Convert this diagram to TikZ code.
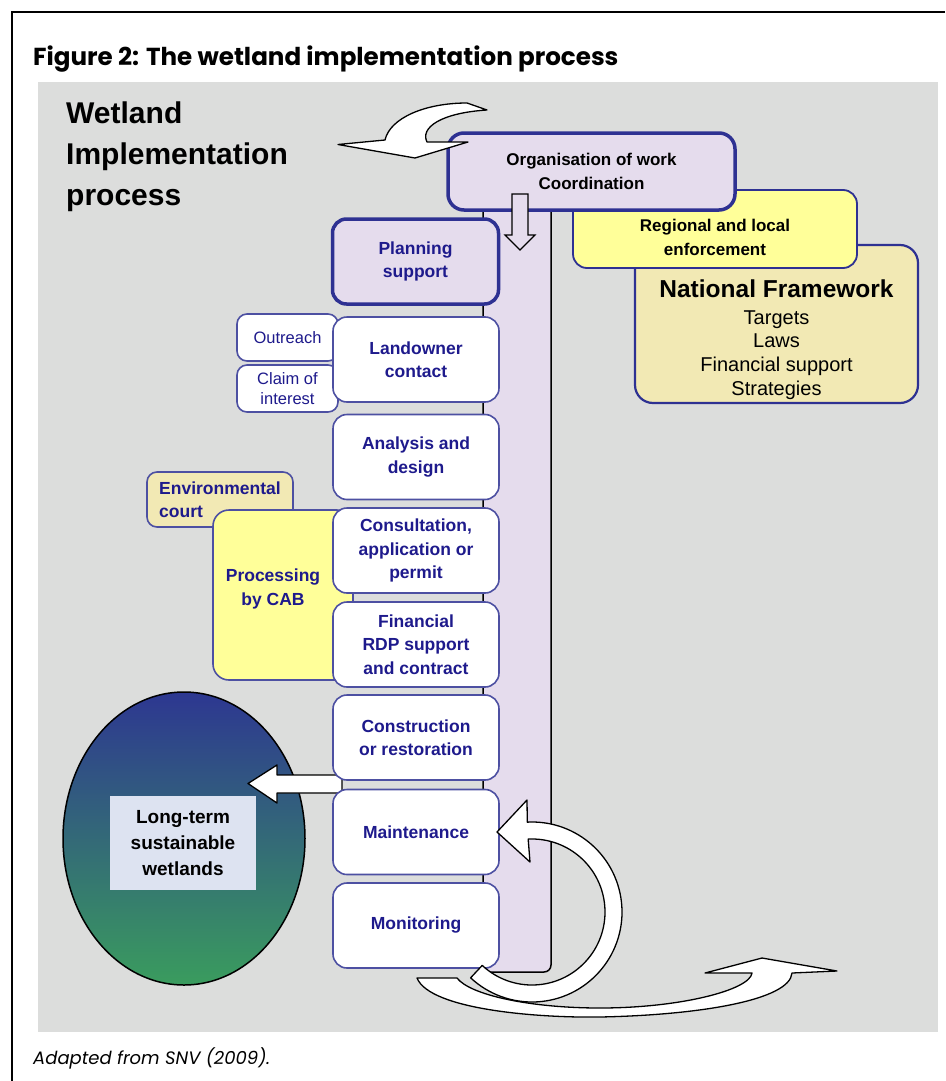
\documentclass[tikz,border=0pt]{standalone}
\usepackage{fontspec}
\setmainfont{Liberation Sans}
\newfontfamily\titlefont{Poppins}
\usetikzlibrary{shapes.geometric}

\definecolor{bggrey}{RGB}{220,221,220}
\definecolor{lav}{RGB}{229,220,237}
\definecolor{navyline}{RGB}{46,49,146}
\definecolor{navytext}{RGB}{30,26,140}
\definecolor{paleyellow}{RGB}{255,255,153}
\definecolor{sand}{RGB}{242,233,180}
\definecolor{labelblue}{RGB}{221,227,241}
\definecolor{wetblue}{RGB}{45,55,145}
\definecolor{wetteal}{RGB}{47,108,128}
\definecolor{wetgreen}{RGB}{58,156,94}

\tikzset{
  stage/.style={draw=navyline!85, line width=1.6pt, fill=white, rounded corners=14pt,
    minimum width=166pt, minimum height=85pt, align=center,
    font=\fontsize{17.5}{23.5}\selectfont\bfseries, text=navytext},
  keystage/.style={stage, fill=lav, line width=3.5pt, draw=navyline},
  sidebox/.style={draw=navyline!85, line width=1.6pt, fill=white, rounded corners=10pt,
    minimum width=101pt, minimum height=47pt, align=center,
    font=\fontsize{16.5}{20}\selectfont, text=navytext},
  blockarrow/.style={draw=black, line width=1.3pt, fill=white, line join=round},
}

\begin{document}
\begin{tikzpicture}[x=1pt,y=1pt]
  \useasboundingbox (0,0) rectangle (945,-1081);
  % Frame and background
  \draw[line width=2pt] (945,-12) -- (12,-12) -- (12,-1081);
  \fill[bggrey] (38,-82) rectangle (938,-1032);
  \node[anchor=base west, inner sep=0, font=\titlefont\fontsize{24.6}{28}\selectfont\bfseries] (figtitle)
    at (33,-66) {Figure 2: The wetland implementation process};
  \node[anchor=north west, inner sep=0, align=left, font=\fontsize{30}{41}\selectfont\bfseries] (heading)
    at (66,-102) {Wetland\\Implementation\\process};

  % Process bar
  \draw[fill=lav, line width=1.5pt, rounded corners=7pt] (483,-195) rectangle (551,-972);

  % Framework boxes
  \node[draw=navyline, line width=2.2pt, fill=sand, rounded corners=18pt,
    minimum width=283pt, minimum height=158pt] (national) at (776.5,-324) {};
  \node[font=\fontsize{24.5}{28}\selectfont\bfseries] (nattitle) at (776.5,-289) {National Framework};
  \node[align=center, font=\fontsize{20}{23.8}\selectfont] (natitems) at (776.5,-355)
    {Targets\\Laws\\Financial support\\Strategies};
  \node[draw=navyline, line width=1.8pt, fill=paleyellow, rounded corners=14pt,
    minimum width=284pt, minimum height=78pt] (regional) at (715,-229) {};
  \node[align=center, font=\fontsize{17}{24}\selectfont\bfseries] (regtext) at (715,-237)
    {Regional and local\\enforcement};
  \node[keystage, text=black, minimum width=287pt, minimum height=77pt, rounded corners=16pt,
    font=\fontsize{17}{24}\selectfont\bfseries] (organisation) at (591.5,-171.5)
    {Organisation of work\\Coordination};

  % Arrows at the top
  \draw[fill=lav, line width=1.2pt] (512,-194) -- (528,-194) -- (528,-235) -- (535,-235)
    -- (520,-250) -- (505,-235) -- (512,-235) -- cycle;
  \draw[blockarrow] (467,-103) .. controls (425,-103) and (390,-118) .. (385,-140) -- (338,-144.5)
    -- (415,-158) -- (468,-142) -- (427,-142) .. controls (420,-128) and (440,-113) .. (487,-110) -- cycle;

  % Side boxes
  \node[sidebox] (outreach) at (287.5,-337.5) {Outreach};
  \node[sidebox] (claim) at (287.5,-388.5) {Claim of\\interest};
  \node[sidebox, fill=sand, minimum width=146pt, minimum height=55pt, align=left,
    font=\fontsize{17.5}{23.5}\selectfont\bfseries] (court) at (220,-499.5) {Environmental\\court};
  \node[sidebox, fill=paleyellow, minimum width=140pt, minimum height=170pt, rounded corners=16pt]
    (cab) at (283,-595) {};
  \node[align=center, text=navytext, font=\fontsize{17.5}{23.5}\selectfont\bfseries] (cabtext)
    at (273,-589) {Processing\\by CAB};

  % Wetlands
  \node[ellipse, draw, line width=1.5pt, minimum width=242pt, minimum height=293pt,
    top color=wetblue, middle color=wetteal, bottom color=wetgreen] (wetlands) at (184,-838.5) {};
  \node[fill=labelblue, minimum width=146pt, minimum height=94pt, align=center,
    font=\fontsize{19}{26}\selectfont\bfseries] (longterm) at (183,-843) {Long-term\\sustainable\\wetlands};
  \coordinate (outtip) at (248,-783.5);
  \draw[blockarrow] (outtip) -- (277,-765) -- (277,-775) -- (342,-775) -- (342,-793) -- (277,-793)
    -- (277,-803) -- cycle;

  % Steps
  \node[keystage] (planning) at (415.5,-261.5) {Planning\\support};
  \node[stage] (landowner) at (416,-359.5) {Landowner\\contact};
  \node[stage] (analysis) at (416,-457) {Analysis and\\design};
  \node[stage] (consultation) at (416,-550.5) {Consultation,\\application or\\permit};
  \node[stage] (financial) at (416,-644.5) {Financial\\RDP support\\and contract};
  \node[stage] (construction) at (416,-737.5) {Construction\\or restoration};
  \node[stage] (maintenance) at (416,-832) {Maintenance};
  \node[stage] (monitoring) at (416,-925.5) {Monitoring};

  % Feedback arrows
  \draw[blockarrow] (417,-978) .. controls (430,-1010) and (540,-1018) .. (600,-1017)
    .. controls (700,-1015) and (790,-1000) .. (792,-973) -- (837,-971) -- (762,-958) -- (705,-973)
    -- (752,-973) .. controls (750,-990) and (680,-1008) .. (600,-1008)
    .. controls (530,-1008) and (470,-995) .. (457,-978) -- cycle;
  \draw[blockarrow] (532,-912) ++(93:90) arc[start angle=93, end angle=-133, radius=90]
    -- ++(-133:-17) arc[start angle=-133, end angle=93, radius=73]
    -- (530,-862) -- (497,-832) -- (527,-800) -- cycle;

  \node[anchor=base west, inner sep=0, font=\titlefont\fontsize{18}{20}\selectfont\itshape] (source)
    at (33,-1064) {Adapted from SNV (2009).};
\end{tikzpicture}
\end{document}
